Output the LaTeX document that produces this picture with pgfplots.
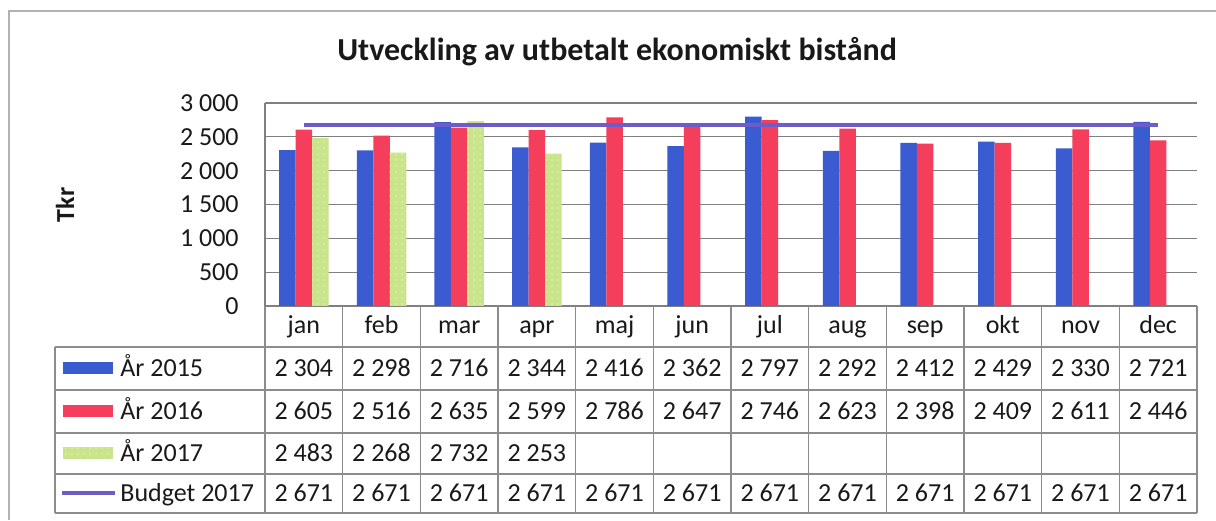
\documentclass[border=0pt]{standalone}
\usepackage{pgfplots}
\pgfplotsset{compat=1.18}
\usepackage{fontspec}
\setmainfont{Carlito}
\usetikzlibrary{patterns}
\definecolor{c15}{RGB}{59,91,208}
\definecolor{c16}{RGB}{245,62,92}
\definecolor{c17}{RGB}{200,228,140}
\definecolor{c17b}{RGB}{232,242,150}
\definecolor{cbud}{RGB}{110,92,200}
\definecolor{grd}{RGB}{128,128,128}
\definecolor{tbl}{RGB}{140,140,140}
\definecolor{txt}{RGB}{25,25,25}
\tikzset{tab/.style={text=txt, font=\fontsize{13}{15}\selectfont, text height=9pt, text depth=3pt}}

\begin{document}
\begin{tikzpicture}
\path[use as bounding box, fill=white] (0,0) rectangle (608pt,260pt);
\begin{axis}[at={(132.5pt,107pt)}, anchor=south west, scale only axis,
  width=466pt, height=101.5pt,
  xmin=-0.5, xmax=11.5, ymin=0, ymax=3000,
  xtick=\empty,
  ytick={0,500,...,3000},
  yticklabels={0,500,1 000,1 500,2 000,2 500,3 000},
  ymajorgrids, grid style={grd, line width=0.6pt},
  axis x line*=bottom, axis y line*=left,
  axis line style={grd, line width=0.6pt, -},
  major tick length=0pt,
  yticklabel style={font=\fontsize{13}{15}\selectfont, text=txt, inner sep=0pt, xshift=-13pt},
  clip=false]
\addplot[ybar, bar width=8.25pt, bar shift=-8.25pt, fill=c15, draw=none] coordinates
  {(0,2304)(1,2298)(2,2716)(3,2344)(4,2416)(5,2362)(6,2797)(7,2292)(8,2412)(9,2429)(10,2330)(11,2721)};
\addplot[ybar, bar width=8.25pt, bar shift=0pt, fill=c16, draw=none] coordinates
  {(0,2605)(1,2516)(2,2635)(3,2599)(4,2786)(5,2647)(6,2746)(7,2623)(8,2398)(9,2409)(10,2611)(11,2446)};
\addplot[ybar, bar width=8.25pt, bar shift=8.25pt, fill=c17, draw=none,
  postaction={pattern=dots, pattern color=c17b}] coordinates
  {(0,2483)(1,2268)(2,2732)(3,2253)};
\addplot[sharp plot, cbud, line width=2pt, mark=none] coordinates
  {(0,2671)(1,2671)(2,2671)(3,2671)(4,2671)(5,2671)(6,2671)(7,2671)(8,2671)(9,2671)(10,2671)(11,2671)};
\end{axis}
\begin{scope}[shift={(0pt,260pt)}, x=0.5pt, y=-0.5pt]
  \draw[gray!60, line width=0.6pt] (9,520) -- (9,11) -- (1216,11);
  \node[text=txt, font=\fontsize{16}{19}\selectfont\bfseries] at (617,52) {Utveckling av utbetalt ekonomiskt bistånd};
  \node[text=txt, font=\fontsize{13}{15}\selectfont\bfseries, rotate=90] at (65,205) {Tkr};
  % table grid
  \foreach \k in {0,...,12} {
    \draw[tbl, line width=0.6pt] ({265+77.667*\k},306) -- ({265+77.667*\k},513);
  }
  \foreach \yy in {347,390,433,474,513} {
    \draw[tbl, line width=0.6pt] (55,\yy) -- (1197,\yy);
  }
  \draw[tbl, line width=0.6pt] (55,347) -- (55,513);
  % header
  \foreach \m [count=\i from 0] in {jan,feb,mar,apr,maj,jun,jul,aug,sep,okt,nov,dec} {
    \node[tab] at ({265+77.667*(\i+0.5)},328) {\m};
  }
  \foreach \v [count=\i from 0] in {2 304,2 298,2 716,2 344,2 416,2 362,2 797,2 292,2 412,2 429,2 330,2 721} {
    \node[tab] at ({265+77.667*(\i+0.5)},370.5) {\v};
  }
  \foreach \v [count=\i from 0] in {2 605,2 516,2 635,2 599,2 786,2 647,2 746,2 623,2 398,2 409,2 611,2 446} {
    \node[tab] at ({265+77.667*(\i+0.5)},413.5) {\v};
  }
  \foreach \v [count=\i from 0] in {2 483,2 268,2 732,2 253} {
    \node[tab] at ({265+77.667*(\i+0.5)},455.5) {\v};
  }
  \foreach \v [count=\i from 0] in {2 671,2 671,2 671,2 671,2 671,2 671,2 671,2 671,2 671,2 671,2 671,2 671} {
    \node[tab] at ({265+77.667*(\i+0.5)},495.5) {\v};
  }
  % legend keys
  \fill[c15] (63,362) rectangle (113,374);
  \fill[c16] (63,405) rectangle (113,417);
  \fill[c17] (63,447) rectangle (113,459);
  \fill[pattern=dots, pattern color=c17b] (63,447) rectangle (113,459);
  \draw[cbud, line width=2pt] (62,493) -- (115,493);
  \node[tab, anchor=west, inner xsep=0pt] at (120,370.5) {År 2015};
  \node[tab, anchor=west, inner xsep=0pt] at (120,413.5) {År 2016};
  \node[tab, anchor=west, inner xsep=0pt] at (120,455.5) {År 2017};
  \node[tab, anchor=west, inner xsep=0pt] at (120,495.5) {Budget 2017};
\end{scope}
\end{tikzpicture}
\end{document}
